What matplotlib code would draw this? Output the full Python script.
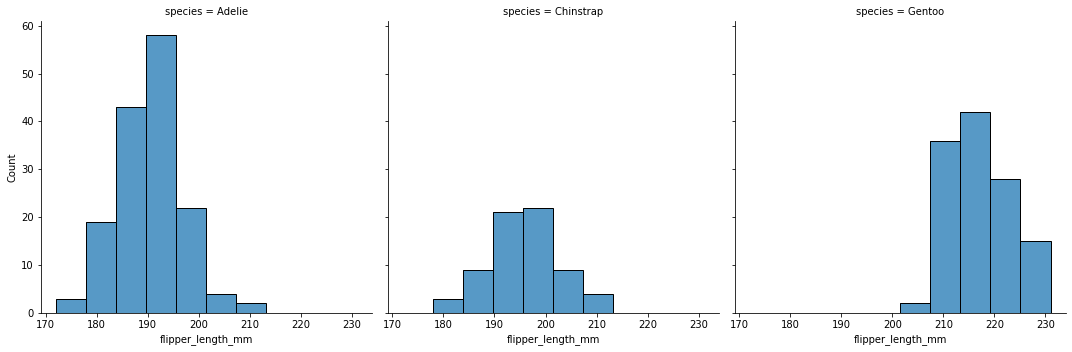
import matplotlib
matplotlib.use("Agg")
import matplotlib.pyplot as plt
import numpy as np

species = ["Adelie", "Chinstrap", "Gentoo"]
bin_edges = [172.0, 177.9, 183.8, 189.7, 195.6, 201.5, 207.4, 213.3, 219.2, 225.1, 231.0]
counts = {
    "Adelie":    [3, 19, 43, 58, 22, 4, 2, 0, 0, 0],
    "Chinstrap": [0, 3, 9, 21, 22, 9, 4, 0, 0, 0],
    "Gentoo":    [0, 0, 0, 0, 0, 2, 36, 42, 28, 15],
}
x_ticks = [170, 180, 190, 200, 210, 220, 230]
y_ticks = [0, 10, 20, 30, 40, 50, 60]

plt.rcParams['font.family'] = ['DejaVu Sans']
plt.rcParams['font.size'] = 10

fig, axes = plt.subplots(1, 3, figsize=(1072/72, 352/72), dpi=72, sharey=True)
fig.subplots_adjust(left=0.038, right=0.994, top=0.939, bottom=0.111, wspace=0.048)

edges = np.array(bin_edges)
widths = np.diff(edges)
for ax, sp in zip(axes, species):
    c = counts[sp]
    ax.bar(edges[:-1], c, width=widths, align='edge', color='#1f77b4', alpha=0.75,
           edgecolor='none', linewidth=0)
    ax.bar(edges[:-1], c, width=widths, align='edge', fill=False,
           edgecolor='black', linewidth=1)
    ax.set_title(f"species = {sp}", fontsize=10)
    ax.set_xlabel("flipper_length_mm", fontsize=10)
    ax.set_xticks(x_ticks)
    ax.set_yticks(y_ticks)
    span = edges[-1] - edges[0]
    ax.set_xlim(edges[0] - 0.05 * span, edges[-1] + 0.05 * span)
    ax.spines['top'].set_visible(False)
    ax.spines['right'].set_visible(False)
    ax.tick_params(labelsize=10)

axes[0].set_ylim(0, 58 * 1.05)
axes[0].set_ylabel("Count", fontsize=10)

fig.savefig("out.png", dpi=72)
